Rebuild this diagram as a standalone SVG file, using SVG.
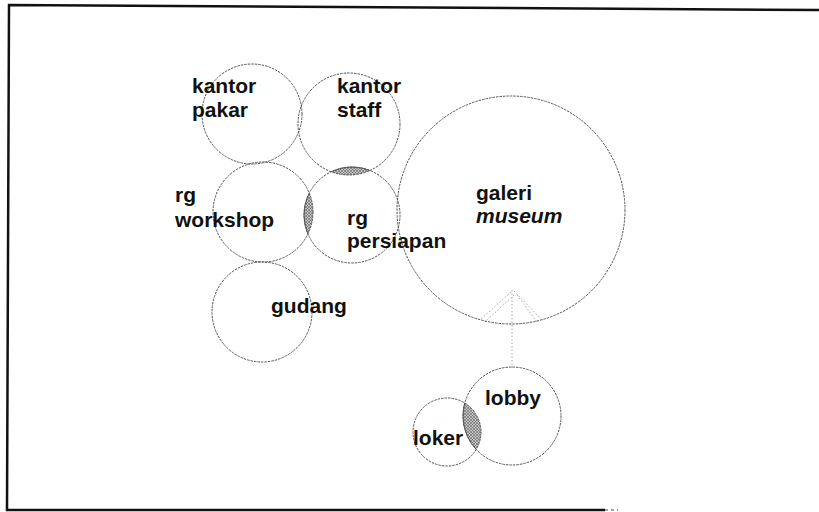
<svg xmlns="http://www.w3.org/2000/svg" width="819" height="512" viewBox="0 0 819 512">
<style>
.n{fill:none;stroke:#555;stroke-width:1;stroke-dasharray:2.5 1}
.t{font-family:"Liberation Sans",Arial,sans-serif;font-size:21px;font-weight:bold;fill:#111}
.c{fill:none;stroke:#aaa;stroke-width:1;stroke-dasharray:1.5 2}
.h{fill:url(#hatch);stroke:#444;stroke-width:0.8}
</style>
<defs>
<pattern id="hatch" width="3" height="3" patternUnits="userSpaceOnUse">
<rect width="3" height="3" fill="#c4c4c4"/>
<path d="M0 3L3 0M0 0L3 3" stroke="#555" stroke-width="0.5"/>
</pattern>
<clipPath id="cpStaff"><circle cx="349" cy="124" r="51"/></clipPath>
<clipPath id="cpWork"><circle cx="263" cy="212" r="50"/></clipPath>
<clipPath id="cpLoker"><circle cx="447" cy="432" r="34"/></clipPath>
</defs>
<rect width="819" height="512" fill="#fff"/>
<g id="frame" fill="none" stroke="#111" stroke-width="2.5">
<path d="M819 10 L9 5 L7 510 L605 510"/>
<path d="M605 510 L618 510" stroke="#888" stroke-width="1.5" stroke-dasharray="3 3"/>
</g>
<g id="overlaps">
<circle class="h" cx="352" cy="215" r="48" clip-path="url(#cpStaff)"/>
<circle class="h" cx="352" cy="215" r="48" clip-path="url(#cpWork)"/>
<circle class="h" cx="512" cy="416" r="49" clip-path="url(#cpLoker)"/>
</g>
<g id="connectors">
<line class="c" x1="512" y1="290" x2="512" y2="368"/>
<line class="c" x1="511" y1="292" x2="480" y2="320"/>
<line class="c" x1="514" y1="295" x2="485" y2="322"/>
<line class="c" x1="514" y1="291" x2="542" y2="320"/>
<line class="c" x1="517" y1="295" x2="537" y2="322"/>
</g>
<g id="kantor-pakar"><circle class="n" cx="252" cy="114" r="50"/><text class="t" x="192" y="93">kantor</text><text class="t" x="192" y="117">pakar</text></g>
<g id="kantor-staff"><circle class="n" cx="349" cy="124" r="51"/><text class="t" x="337" y="93">kantor</text><text class="t" x="337" y="117">staff</text></g>
<g id="rg-workshop"><circle class="n" cx="263" cy="212" r="50"/><text class="t" x="175" y="202">rg</text><text class="t" x="175" y="227">workshop</text></g>
<g id="rg-persiapan"><circle class="n" cx="352" cy="215" r="48"/><text class="t" x="347" y="225">rg</text><text class="t" x="347" y="248">persiapan</text></g>
<g id="galeri-museum"><circle class="n" cx="511" cy="210" r="114"/><text class="t" x="476" y="200">galeri</text><text class="t" x="476" y="223" font-style="italic">museum</text></g>
<g id="gudang"><circle class="n" cx="262" cy="312" r="50"/><text class="t" x="271" y="313">gudang</text></g>
<g id="lobby"><circle class="n" cx="512" cy="416" r="49"/><text class="t" x="485" y="405">lobby</text></g>
<g id="loker"><circle class="n" cx="447" cy="432" r="34"/><text class="t" x="413" y="445">loker</text></g>
</svg>
